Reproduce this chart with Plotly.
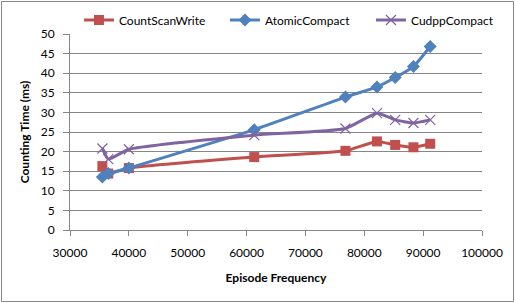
import plotly.graph_objects as go

episode_freq = [35500, 36500, 40000, 61300, 76800, 82150, 85250, 88350, 91200]
count_scan_write = [16.3, 14.4, 15.8, 18.6, 20.2, 22.6, 21.7, 21.1, 22.0]
atomic_compact = [13.5, 14.4, 15.8, 25.6, 33.9, 36.5, 38.9, 41.7, 46.8]
cudpp_compact = [20.8, 18.1, 20.6, 24.2, 25.9, 29.8, 28.1, 27.3, 28.1]

FONT = "Lato"
W, H = 515, 303
ML, MR, MT, MB = 70, 33, 34, 73
PW, PH = W - ML - MR, H - MT - MB

fig = go.Figure()
fig.add_trace(go.Scatter(
    x=episode_freq, y=count_scan_write, name="CountScanWrite", mode="lines+markers",
    line=dict(color="#C0504D", width=3, shape="spline", smoothing=0.5),
    marker=dict(symbol="square", size=10, color="#C0504D"),
))
fig.add_trace(go.Scatter(
    x=episode_freq, y=atomic_compact, name="AtomicCompact", mode="lines+markers",
    line=dict(color="#4F81BD", width=3, shape="spline", smoothing=0.5),
    marker=dict(symbol="diamond", size=10, color="#4F81BD"),
))
fig.add_trace(go.Scatter(
    x=episode_freq, y=cudpp_compact, name="CudppCompact", mode="lines+markers",
    line=dict(color="#8064A2", width=3, shape="spline", smoothing=0.5),
    marker=dict(symbol="x-thin", size=10, line=dict(color="#8064A2", width=1.2), color="#8064A2"),
))

# outer chart border
def px2x(px):
    return (px - ML) / PW

def py2y(py):
    return (H - MB - py) / PH

fig.add_shape(type="rect", xref="paper", yref="paper",
              x0=px2x(1.5), x1=px2x(513.5), y0=py2y(301.5), y1=py2y(1.5),
              line=dict(color="#868686", width=1), fillcolor="rgba(0,0,0,0)", layer="below")

fig.update_layout(
    width=W, height=H,
    margin=dict(l=ML, r=MR, t=MT, b=MB, autoexpand=False),
    paper_bgcolor="white", plot_bgcolor="white",
    font=dict(family=FONT, size=12, color="black"),
    showlegend=True,
    legend=dict(orientation="h", x=-0.0001, y=py2y(20), xanchor="left", yanchor="middle",
                entrywidth=92, font=dict(size=12), bgcolor="rgba(0,0,0,0)",
                itemwidth=30, tracegroupgap=0, indentation=9),
)
fig.update_xaxes(
    range=[30000, 100000], tickvals=list(range(30000, 100001, 10000)),
    showgrid=False, showline=True, linecolor="#868686", linewidth=1,
    ticks="outside", ticklen=5, tickcolor="#868686",
    tickfont=dict(size=12), tickformat="d", ticklabelstandoff=7,
    title=dict(text="<b>Episode Frequency</b>", font=dict(size=12), standoff=14),
    zeroline=False,
)
fig.update_yaxes(
    range=[0, 50], tickvals=list(range(0, 51, 5)),
    showgrid=True, gridcolor="#868686", gridwidth=1,
    showline=True, linecolor="#868686", linewidth=1,
    ticks="outside", ticklen=6, tickcolor="#868686",
    tickfont=dict(size=12), ticklabelstandoff=6,
    title=dict(text="<b>Counting Time (ms)</b>", font=dict(size=12), standoff=8),
    zeroline=False,
)
fig.write_html("out.html", config={"displayModeBar": False},
               post_script="document.body.style.margin='0';")
